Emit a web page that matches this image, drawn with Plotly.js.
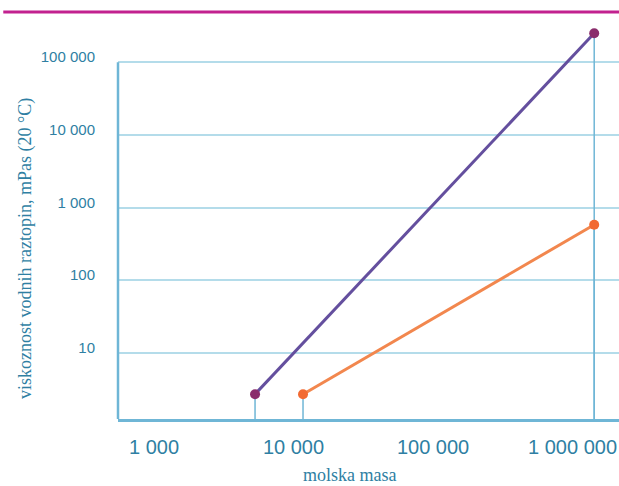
<!DOCTYPE html>
<html>
<head>
<meta charset="utf-8">
<script src="https://cdn.plot.ly/plotly-3.0.1.min.js"></script>
<style>html,body{margin:0;padding:0;background:#fff;}#chart{width:619px;height:486px;}</style>
</head>
<body>
<div id="chart"></div>
<script>
// Tick labels
const xTickVals = [1000, 10000, 100000, 1000000];
const xTickText = ['1 000', '10 000', '100 000', '1 000 000'];
const yTickVals = [10, 100, 1000, 10000, 100000];
const yTickText = ['10', '100', '1 000', '10 000', '100 000'];
const xTitle = 'molska masa';
const yTitle = 'viskoznost vodnih raztopin, mPas (20 °C)';

// Series (molar mass -> viscosity of aqueous solution, mPas at 20 °C)
const purpleX = [5300, 1430000];
const purpleY = [2.7, 250000];
const orangeX = [11700, 1430000];
const orangeY = [2.7, 580];

const xRange = [2.742, 6.333];
const yRange = [0.09, 5.58];
const yBottom = Math.pow(10, yRange[0]);

const gridBlue = '#b4dcea';
const axisBlue = '#6fb6d6';
const textBlue = '#2f7fa3';
const serif = 'Liberation Serif, Times New Roman, serif';

function drop(x, y) {
  return {x: [x, x], y: [y, yBottom], mode: 'lines', type: 'scatter',
    line: {color: axisBlue, width: 1.5}, hoverinfo: 'skip', showlegend: false};
}

const traces = [];
for (let i = 0; i < purpleX.length; i++) traces.push(drop(purpleX[i], purpleY[i]));
for (let i = 0; i < orangeX.length; i++) traces.push(drop(orangeX[i], orangeY[i]));
traces.push({x: purpleX, y: purpleY, type: 'scatter', mode: 'lines+markers', name: 'A',
  line: {color: '#644f9e', width: 3}, marker: {color: '#8a2d6c', size: 10}, cliponaxis: false});
traces.push({x: orangeX, y: orangeY, type: 'scatter', mode: 'lines+markers', name: 'B',
  line: {color: '#f2874e', width: 3}, marker: {color: '#f26a32', size: 10}, cliponaxis: false});

const layout = {
  width: 619, height: 486,
  margin: {l: 118, r: 0, t: 20, b: 67},
  paper_bgcolor: '#ffffff', plot_bgcolor: '#ffffff',
  showlegend: false,
  xaxis: {
    type: 'log', range: xRange, tickvals: xTickVals, ticktext: xTickText,
    showgrid: false, zeroline: false, showline: true, linecolor: axisBlue, linewidth: 3,
    ticks: '', ticklabelstandoff: 8,
    tickfont: {family: 'Liberation Sans, Arial, sans-serif', size: 20, color: textBlue}
  },
  yaxis: {
    type: 'log', range: yRange, tickvals: yTickVals, ticktext: yTickText,
    showgrid: true, gridcolor: gridBlue, gridwidth: 2, zeroline: false, showline: false,
    ticks: '', ticklabelstandoff: 22, ticklabelshift: -5,
    tickfont: {family: 'Liberation Sans, Arial, sans-serif', size: 15, color: textBlue}
  },
  annotations: [
    {text: xTitle, xref: 'paper', yref: 'paper', x: (349 - 118) / 501, y: (486 - 67 - 475) / 399,
      xanchor: 'center', yanchor: 'middle', showarrow: false,
      font: {family: serif, size: 18, color: textBlue}},
    {text: yTitle, xref: 'paper', yref: 'paper', x: (25 - 118) / 501, y: (419 - 249) / 399,
      xanchor: 'center', yanchor: 'middle', showarrow: false, textangle: -90,
      font: {family: serif, size: 18, color: textBlue}}
  ],
  shapes: [
    {type: 'line', xref: 'paper', yref: 'y', x0: 0, x1: 0, y0: yBottom, y1: yTickVals[yTickVals.length - 1],
      line: {color: axisBlue, width: 2.5}},
    {type: 'line', xref: 'paper', yref: 'paper', x0: -0.229, x1: 1, y0: 1.02, y1: 1.02,
      line: {color: '#c2218f', width: 3}}
  ]
};

Plotly.newPlot('chart', traces, layout, {displayModeBar: false, staticPlot: true});
</script>
</body>
</html>
